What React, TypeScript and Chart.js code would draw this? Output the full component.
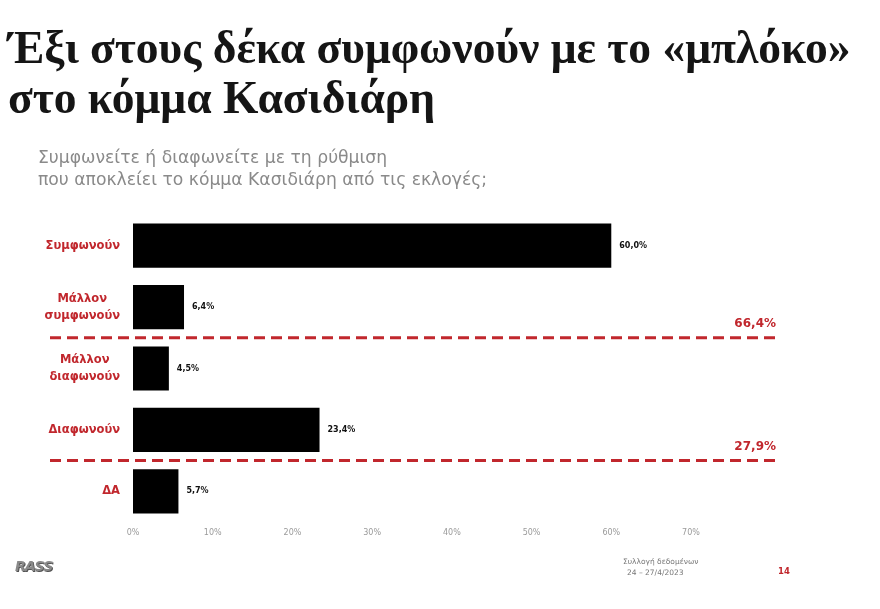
import React, { useEffect, useRef } from "react";
import { Chart, registerables } from "chart.js";

Chart.register(...registerables);

const titleLines = ["Έξι στους δέκα συμφωνούν με το «μπλόκο»", "στο κόμμα Κασιδιάρη"];
const subtitleLines = [
  "Συμφωνείτε ή διαφωνείτε με τη ρύθμιση",
  "που αποκλείει το κόμμα Κασιδιάρη από τις εκλογές;",
];
const categories: string[][] = [
  ["Συμφωνούν"],
  ["Μάλλον", "συμφωνούν"],
  ["Μάλλον", "διαφωνούν"],
  ["Διαφωνούν"],
  ["ΔΑ"],
];
const values = [60.0, 6.4, 4.5, 23.4, 5.7];
const valueLabels = ["60,0%", "6,4%", "4,5%", "23,4%", "5,7%"];
const groupBreakAfter = [1, 3];
const groupTotals = ["66,4%", "27,9%"];
const axisMax = 70;
const axisStep = 10;
const footerLines = ["Συλλογή δεδομένων", "24 – 27/4/2023"];
const pageNumber = "14";

const RED = "#c1272d";
const SANS = "'DejaVu Sans', sans-serif";

const overlayPlugin = {
  id: "overlay",
  afterDatasetsDraw(chart: any) {
    const { ctx, chartArea, scales } = chart;
    const x = scales.x;
    const y = scales.y;
    ctx.save();
    // value labels
    ctx.fillStyle = "#111";
    ctx.font = `bold 8px ${SANS}`;
    ctx.textAlign = "left";
    ctx.textBaseline = "middle";
    values.forEach((v, i) => {
      ctx.fillText(valueLabels[i], x.getPixelForValue(v) + 8, y.getPixelForValue(i));
    });
    // category labels
    ctx.fillStyle = RED;
    ctx.font = `bold 11.5px ${SANS}`;
    ctx.textAlign = "center";
    const rightEdge = chartArea.left - 13;
    const lh = 17;
    categories.forEach((lines, i) => {
      const maxW = Math.max(...lines.map((l) => ctx.measureText(l).width));
      const cx = rightEdge - maxW / 2;
      const cy = y.getPixelForValue(i);
      const start = cy - ((lines.length - 1) * lh) / 2;
      lines.forEach((l, j) => ctx.fillText(l, cx, start + j * lh));
    });
    // dashed group lines
    const lx0 = chartArea.left - 83;
    const lx1 = chartArea.right + 85;
    groupBreakAfter.forEach((b, k) => {
      const ly = (y.getPixelForValue(b) + y.getPixelForValue(b + 1)) / 2;
      ctx.strokeStyle = RED;
      ctx.lineWidth = 3;
      ctx.setLineDash([11, 6]);
      ctx.beginPath();
      ctx.moveTo(lx0, ly);
      ctx.lineTo(lx1, ly);
      ctx.stroke();
      ctx.setLineDash([]);
      ctx.fillStyle = RED;
      ctx.font = `bold 12px ${SANS}`;
      ctx.textAlign = "right";
      ctx.textBaseline = "alphabetic";
      ctx.fillText(groupTotals[k], lx1, ly - 11);
    });
    ctx.restore();
  },
};

function BarChart() {
  const ref = useRef<HTMLCanvasElement | null>(null);
  useEffect(() => {
    if (!ref.current) return;
    const chart = new Chart(ref.current, {
      type: "bar",
      data: {
        labels: categories.map((c) => c.join(" ")),
        datasets: [
          {
            data: values,
            backgroundColor: "#000",
            borderWidth: 0,
            barPercentage: 0.72,
            categoryPercentage: 1,
          },
        ],
      },
      options: {
        indexAxis: "y",
        animation: false,
        responsive: true,
        maintainAspectRatio: false,
        layout: { padding: { left: 133, right: 189, top: 215, bottom: 67 } },
        plugins: { legend: { display: false }, tooltip: { enabled: false } },
        scales: {
          x: {
            min: 0,
            max: axisMax,
            grid: { display: false, drawTicks: false },
            border: { display: false },
            ticks: {
              stepSize: axisStep,
              padding: 6,
              color: "#9a9a9a",
              font: { family: "'DejaVu Sans', sans-serif", size: 8 },
              callback: (v: any) => `${v}%`,
            },
            afterFit: (s: any) => {
              s.height = 20;
            },
          },
          y: {
            display: false,
            grid: { display: false },
          },
        },
      },
      plugins: [overlayPlugin],
    } as any);
    return () => chart.destroy();
  }, []);
  return <canvas ref={ref} />;
}

export default function App() {
  return (
    <div
      style={{
        position: "absolute",
        left: 0,
        top: 0,
        width: 880,
        height: 609,
        background: "#fff",
        overflow: "hidden",
      }}
    >
      <div style={{ position: "absolute", left: 0, top: 0, width: 880, height: 609 }}>
        <BarChart />
      </div>
      <div
        style={{
          position: "absolute",
          left: 8,
          top: 23,
          fontFamily: "'Liberation Serif', serif",
          fontWeight: "bold",
          fontSize: 45.5,
          lineHeight: "50px",
          color: "#151515",
          whiteSpace: "nowrap",
        }}
      >
        {titleLines.map((t, i) => (
          <div key={i}>{t}</div>
        ))}
      </div>
      <div
        style={{
          position: "absolute",
          left: 38,
          top: 146,
          fontFamily: SANS,
          fontSize: 17.2,
          lineHeight: "22px",
          color: "#8a8a8a",
          whiteSpace: "nowrap",
        }}
      >
        {subtitleLines.map((t, i) => (
          <div key={i}>{t}</div>
        ))}
      </div>
      <div
        style={{
          position: "absolute",
          left: 15,
          top: 558,
          fontFamily: SANS,
          fontWeight: "bold",
          fontStyle: "italic",
          fontSize: 14,
          color: "#8a8a8a",
          letterSpacing: -1,
          textShadow: "1px 1px 0 #555",
        }}
      >
        RASS
      </div>
      <div
        style={{
          position: "absolute",
          left: 623,
          top: 556,
          fontFamily: SANS,
          fontSize: 7.5,
          lineHeight: "11px",
          color: "#777",
          whiteSpace: "nowrap",
        }}
      >
        <div>{footerLines[0]}</div>
        <div style={{ paddingLeft: 4 }}>{footerLines[1]}</div>
      </div>
      <div
        style={{
          position: "absolute",
          left: 778,
          top: 566,
          fontFamily: SANS,
          fontWeight: "bold",
          fontSize: 8.5,
          color: RED,
        }}
      >
        {pageNumber}
      </div>
    </div>
  );
}
